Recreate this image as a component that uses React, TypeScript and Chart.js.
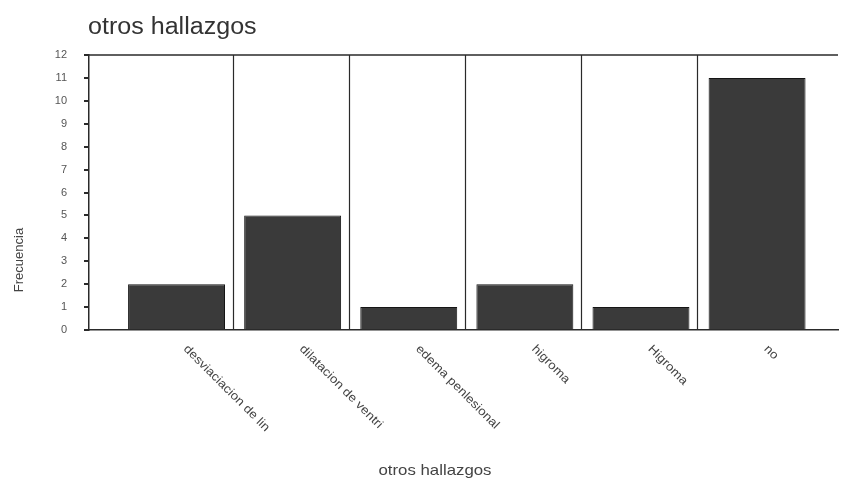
import React, { useEffect, useRef } from "react";
import { Chart, registerables } from "chart.js";

Chart.register(...registerables);

const categories: string[] = [
  "desviaciacion de lin",
  "dilatacion de ventri",
  "edema penlesional",
  "higroma",
  "Higroma",
  "no",
];
const frequencies: number[] = [2, 5, 1, 2, 1, 11];
const yTickMax = 12;
const chartTitle = "otros hallazgos";
const xAxisTitle = "otros hallazgos";
const yAxisTitle = "Frecuencia";

const FONT = '"Liberation Sans", Arial, Helvetica, sans-serif';

const framePlugin = {
  id: "spssFrame",
  beforeDatasetsDraw(chart: any) {
    const { ctx, chartArea } = chart;
    const xs = chart.scales.x;
    ctx.save();
    ctx.strokeStyle = "#2a2a2a";
    ctx.lineWidth = 1.5;
    // top frame line
    ctx.beginPath();
    ctx.moveTo(chartArea.left, chartArea.top);
    ctx.lineTo(chartArea.right, chartArea.top);
    ctx.stroke();
    // category separators
    ctx.lineWidth = 1.2;
    for (let i = 0; i < categories.length - 1; i++) {
      const x = Math.round(xs.getPixelForValue(i + 0.5)) - 1.5;
      ctx.beginPath();
      ctx.moveTo(x, chartArea.top);
      ctx.lineTo(x, chartArea.bottom);
      ctx.stroke();
    }
    ctx.restore();
  },
  afterDraw(chart: any) {
    const { ctx, chartArea } = chart;
    const xs = chart.scales.x;
    ctx.save();
    // chart title
    ctx.fillStyle = "#333";
    ctx.font = `23px ${FONT}`;
    ctx.textAlign = "left";
    ctx.textBaseline = "alphabetic";
    ctx.save();
    ctx.translate(88, 34);
    ctx.scale(1.09, 1);
    ctx.fillText(chartTitle, 0, 0);
    ctx.restore();

    // rotated category labels
    ctx.fillStyle = "#444";
    ctx.font = `12px ${FONT}`;
    ctx.textBaseline = "top";
    ctx.textAlign = "left";
    categories.forEach((c, i) => {
      const x = xs.getPixelForValue(i) + 13;
      ctx.save();
      ctx.translate(x, chartArea.bottom + 13);
      ctx.rotate(Math.PI / 4);
      ctx.scale(1.12, 1);
      ctx.fillText(c, 0, 0);
      ctx.restore();
    });

    // x axis title
    ctx.font = `15px ${FONT}`;
    ctx.textAlign = "center";
    ctx.textBaseline = "alphabetic";
    ctx.save();
    ctx.translate(435, 475);
    ctx.scale(1.12, 1);
    ctx.fillText(xAxisTitle, 0, 0);
    ctx.restore();

    // y axis title
    ctx.font = `13px ${FONT}`;
    ctx.textAlign = "center";
    ctx.textBaseline = "middle";
    ctx.save();
    ctx.translate(19, 260);
    ctx.rotate(-Math.PI / 2);
    ctx.fillText(yAxisTitle, 0, 0);
    ctx.restore();
    ctx.restore();
  },
};

export default function App() {
  const ref = useRef<HTMLCanvasElement | null>(null);

  useEffect(() => {
    if (!ref.current) return;
    const chart = new Chart(ref.current, {
      type: "bar",
      data: {
        datasets: [
          {
            label: yAxisTitle,
            data: frequencies.map((v, i) => ({ x: i, y: v })),
            backgroundColor: "#3a3a3a",
            borderColor: "#151515",
            borderWidth: 1,
            barPercentage: 0.835,
            categoryPercentage: 1,
          },
        ],
      },
      options: {
        responsive: false,
        animation: false,
        devicePixelRatio: 1,
        layout: { padding: { top: 55, right: 3, left: 0, bottom: 0 } },
        plugins: {
          legend: { display: false },
          title: { display: false },
          tooltip: { enabled: false },
        },
        scales: {
          x: {
            type: "linear",
            min: -0.754,
            max: 5.697,
            offset: false,
            ticks: { display: false, stepSize: 1, includeBounds: false },
            grid: { display: false },
            border: { display: true, color: "#2a2a2a", width: 1.5 },
            afterFit: (scale: any) => {
              scale.height = 150;
            },
          },
          y: {
            min: 0,
            max: yTickMax,
            ticks: {
              stepSize: 1,
              padding: 17,
              color: "#555",
              font: { family: FONT, size: 11 },
            },
            grid: {
              drawOnChartArea: false,
              drawTicks: true,
              tickLength: 5,
              color: "#2a2a2a",
              lineWidth: 2,
            },
            border: { display: true, color: "#2a2a2a", width: 1.5 },
            afterFit: (scale: any) => {
              scale.width = 89;
            },
          },
        },
      },
      plugins: [framePlugin],
    });
    return () => chart.destroy();
  }, []);

  return (
    <div style={{ position: "absolute", left: 0, top: 0, width: 841, height: 480, background: "#fff" }}>
      <canvas ref={ref} width={841} height={480} />
    </div>
  );
}
